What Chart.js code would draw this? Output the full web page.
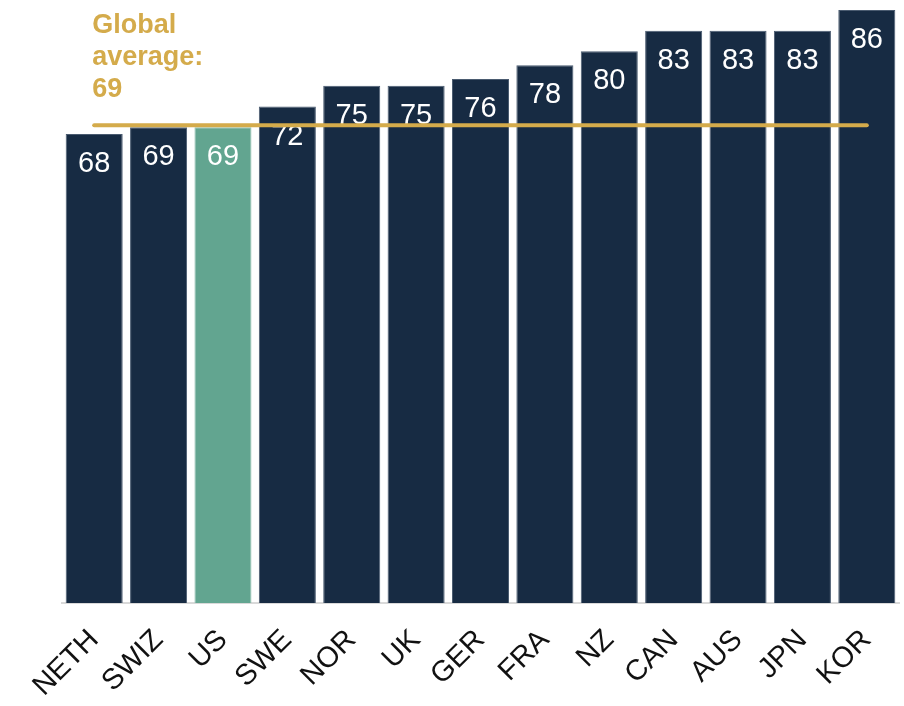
<!DOCTYPE html>
<html>
<head>
<meta charset="utf-8">
<script src="https://cdn.jsdelivr.net/npm/chart.js@4/dist/chart.umd.min.js"></script>
<style>
html,body{margin:0;padding:0;background:#fff;}
#wrap{width:904px;height:706px;position:relative;}
</style>
</head>
<body>
<div id="wrap"><canvas id="c" width="904" height="706"></canvas></div>
<script>
const categories = ["NETH","SWIZ","US","SWE","NOR","UK","GER","FRA","NZ","CAN","AUS","JPN","KOR"];
const values = [68,69,69,72,75,75,76,78,80,83,83,83,86];
const averageLineValue = 69.3;
const averageLabel = ["Global", "average:", "69"];
const highlight = "US";

const NAVY = "#172b43";
const TEAL = "#62a590";
const GOLD = "#d4ab4b";
const FONT = "'Liberation Sans', Arial, sans-serif";

const labelPlugin = {
  id: "valueLabels",
  afterDatasetDraw(chart, args) {
    if (args.index !== 0) return;
    const ctx = chart.ctx;
    const meta = args.meta;
    ctx.save();
    ctx.fillStyle = "#ffffff";
    ctx.font = "29px " + FONT;
    ctx.textAlign = "center";
    ctx.textBaseline = "middle";
    meta.data.forEach((bar, i) => {
      ctx.fillText(String(values[i]), bar.x, bar.y + 30);
    });
    ctx.restore();
  }
};

const avgTextPlugin = {
  id: "avgText",
  afterDraw(chart) {
    const ctx = chart.ctx;
    const xs = chart.scales.x;
    const x0 = xs.getPixelForValue(0) - 2;
    ctx.save();
    ctx.fillStyle = GOLD;
    ctx.font = "bold 27px " + FONT;
    ctx.textAlign = "left";
    ctx.textBaseline = "alphabetic";
    averageLabel.forEach((t, i) => ctx.fillText(t, x0, 33 + i * 32));
    ctx.restore();
  }
};

new Chart(document.getElementById("c"), {
  data: {
    labels: categories,
    datasets: [
      {
        type: "bar",
        data: values,
        backgroundColor: categories.map(c => c === highlight ? TEAL : NAVY),
        borderColor: categories.map(c => c === highlight ? "#8fbfae" : "#4a5b70"),
        borderWidth: {left:1, right:1, top:1, bottom:0},
        barPercentage: 0.886,
        categoryPercentage: 1.0,
        order: 1
      },
      {
        type: "line",
        data: categories.map(() => averageLineValue),
        borderColor: GOLD,
        borderWidth: 4,
        pointRadius: 0,
        borderCapStyle: "round",
        order: 0
      }
    ]
  },
  options: {
    responsive: false,
    animation: false,
    layout: { padding: { left: 62, right: 5, top: 10, bottom: 0 } },
    plugins: { legend: { display: false }, tooltip: { enabled: false } },
    scales: {
      x: {
        grid: { display: false, drawTicks: false },
        border: { display: true, color: "#d9d9d9", width: 2 },
        ticks: {
          color: "#111111",
          font: { family: FONT, size: 29 },
          minRotation: 45,
          maxRotation: 45,
          padding: 20,
          autoSkip: false
        },
        afterFit(scale) {
          scale.height = 103;
          scale.paddingLeft = 0;
          scale.paddingRight = 0;
        }
      },
      y: {
        display: false,
        min: 0,
        max: 86
      }
    }
  },
  plugins: [labelPlugin, avgTextPlugin]
});
</script>
</body>
</html>
